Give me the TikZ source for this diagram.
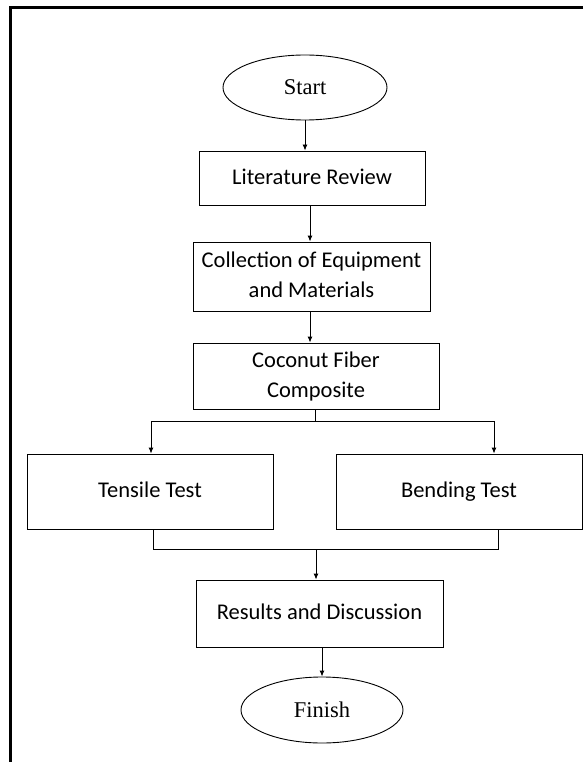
\documentclass[tikz,border=0pt]{standalone}
\usepackage{fontspec}
\setmainfont{Liberation Serif}
\newfontfamily\boxfont{Carlito}
\usetikzlibrary{shapes.geometric,arrows.meta}
\begin{document}
\begin{tikzpicture}[x=1pt,y=-1pt,
  flowbox/.style={draw,line width=0.9pt,rectangle,inner sep=0pt,align=center,font=\boxfont\fontsize{22.5}{30}\selectfont},
  term/.style={draw,line width=0.9pt,ellipse,inner sep=0pt,font=\fontsize{22.5}{26}\selectfont},
  arr/.style={line width=0.9pt,-{Latex[length=6pt,width=5pt]}},
  ln/.style={line width=0.9pt}]
\useasboundingbox (0,0) rectangle (583,762);
\draw[line width=2.4pt] (583,7.5) -- (10.5,7.5) -- (10.5,762);
\node[term,minimum width=164pt,minimum height=65pt] (start) at (305,87.5) {Start};
\node[flowbox,minimum width=226pt,minimum height=54pt] (lit) at (312,178) {\strut Literature Review};
\node[flowbox,minimum width=237pt,minimum height=69pt] (coll) at (311.5,276.5) {\strut Collection of Equipment\\\strut and Materials};
\node[flowbox,minimum width=246pt,minimum height=66pt] (coco) at (316,376) {\strut Coconut Fiber\\\strut Composite};
\node[flowbox,minimum width=246pt,minimum height=75pt] (tens) at (150,491.5) {\strut Tensile Test};
\node[flowbox,minimum width=246pt,minimum height=75pt] (bend) at (459,491.5) {\strut Bending Test};
\node[flowbox,minimum width=247pt,minimum height=67pt] (res) at (319.5,613.5) {\strut Results and Discussion};
\node[term,minimum width=162pt,minimum height=66pt] (fin) at (322,710) {Finish};
\coordinate (br) at (315,421);
\coordinate (brl) at (151,421);
\coordinate (brr) at (494,421);
\coordinate (jl) at (153,549);
\coordinate (jr) at (498,549);
\coordinate (jm) at (316,549);
\draw[arr] (start.south) -- (start.south |- lit.north);
\draw[arr] (lit.south -| 310,0) -- (coll.north -| 310,0);
\draw[arr] (coll.south -| 310,0) -- (coco.north -| 310,0);
\draw[ln] (coco.south -| br) -- (br);
\draw[ln] (brl) -- (brr);
\draw[arr] (brl) -- (brl |- tens.north);
\draw[arr] (brr) -- (brr |- bend.north);
\draw[ln] (jl |- tens.south) -- (jl) -- (jr) -- (jr |- bend.south);
\draw[arr] (jm) -- (jm |- res.north);
\draw[arr] (res.south -| fin.north) -- (fin.north);
\end{tikzpicture}
\end{document}
